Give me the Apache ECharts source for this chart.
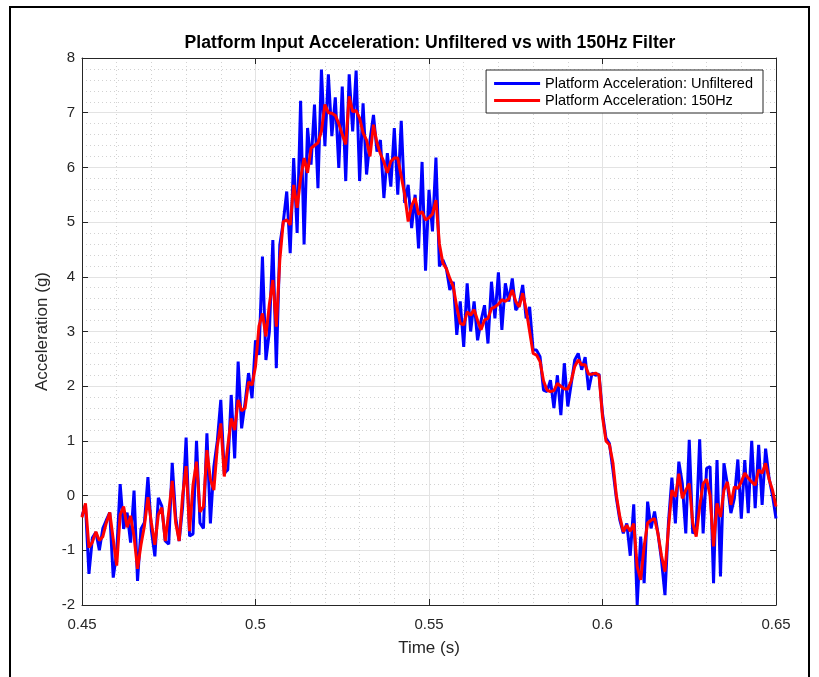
<!DOCTYPE html>
<html>
<head>
<meta charset="utf-8">
<script src="https://cdn.jsdelivr.net/npm/echarts@6/dist/echarts.min.js"></script>
<style>html,body{margin:0;padding:0;background:#fff;}#c{width:819px;height:677px;}</style>
</head>
<body>
<div id="c"></div>
<script>
// Sample times: start and step (s)
const T0 = 0.45;
const DT = 0.001;
// Platform acceleration, unfiltered (g)
const unfiltered = [
 -0.37,-0.17,-1.43,-0.77,-0.67,-1.0,-0.6,-0.45,-0.31,-1.5,
 -1.04,0.21,-0.61,-0.31,-0.86,0.09,-1.56,-0.61,-0.49,0.34,
 -0.64,-1.11,-0.04,-0.19,-0.83,-0.89,0.60,-0.4,-0.83,-0.2,
 1.06,-0.74,-0.7,1.0,-0.5,-0.6,1.14,-0.51,0.53,1.0,
 1.75,0.41,0.47,1.84,0.68,2.45,1.23,1.7,2.24,1.78,
 2.84,2.57,4.37,2.48,3.0,4.67,2.33,4.58,5.0,5.56,
 4.43,6.17,4.80,7.22,4.59,6.72,6.05,7.15,5.62,7.79,
 6.39,7.70,6.57,7.28,5.99,7.48,5.75,7.70,6.66,7.77,
 5.75,7.17,5.87,6.5,6.96,6.29,6.5,5.44,6.26,5.65,
 6.72,5.50,6.85,5.35,5.68,4.89,5.50,4.52,6.10,4.11,
 5.59,4.83,6.18,4.19,4.31,4.15,3.76,3.91,2.94,3.55,
 2.72,3.88,3.0,3.55,2.84,3.2,3.48,2.78,3.91,3.24,
 4.08,3.03,3.88,3.55,3.97,3.39,3.5,3.85,3.24,3.45,
 2.66,2.66,2.54,1.93,1.90,2.11,1.60,2.20,1.47,2.42,
 1.63,2.05,2.48,2.60,2.30,2.53,1.93,2.24,2.20,2.22,
 1.5,1.05,0.95,0.47,-0.05,-0.45,-0.69,-0.51,-1.1,-0.16,
 -2.0,-0.75,-1.6,-0.11,-0.6,-0.29,-0.7,-1.18,-1.82,-0.5,
 0.33,-0.51,0.62,0.22,-0.69,1.02,-0.69,-0.6,1.03,-0.69,
 0.5,0.53,-1.6,0.65,-1.48,0.59,0.2,-0.32,-0.05,0.66,
 -0.42,0.65,-0.32,1.0,-0.23,0.93,-0.17,0.86,0.32,0.0,
 -0.42
];
// Platform acceleration, 150 Hz filter (g)
const filtered150 = [
 -0.40,-0.14,-0.95,-0.85,-0.66,-0.82,-0.75,-0.5,-0.31,-0.8,
 -1.28,-0.35,-0.2,-0.58,-0.37,-0.75,-1.34,-0.9,-0.55,-0.03,
 -0.5,-0.9,-0.35,-0.22,-0.83,-0.3,0.27,-0.5,-0.83,0.0,
 0.54,-0.65,0.2,0.62,-0.3,-0.2,0.83,0.3,0.1,0.9,
 1.32,0.35,0.9,1.41,1.2,1.75,1.55,1.6,2.08,2.02,
 2.36,3.1,3.33,2.91,3.5,3.94,3.09,4.3,5.01,5.04,
 4.95,5.68,5.26,5.8,6.17,5.9,6.35,6.4,6.45,6.66,
 7.15,7.0,6.99,6.95,6.8,6.6,6.42,7.30,7.02,7.04,
 6.9,6.63,6.5,6.20,6.78,6.45,6.25,6.1,5.9,6.11,
 6.17,6.17,5.84,5.5,5.01,5.3,5.44,5.14,5.19,5.04,
 5.08,5.15,5.40,4.6,4.25,4.15,3.97,3.82,3.45,3.15,
 3.12,3.36,3.3,3.40,3.2,3.03,3.21,3.24,3.42,3.45,
 3.5,3.58,3.55,3.6,3.76,3.55,3.45,3.70,3.4,3.0,
 2.60,2.57,2.45,2.1,1.93,1.90,1.92,2.05,2.0,1.95,
 1.95,2.1,2.36,2.48,2.39,2.39,2.22,2.22,2.24,2.20,
 1.44,1.0,0.93,0.6,0.0,-0.39,-0.66,-0.54,-0.65,-0.51,
 -1.3,-1.54,-0.93,-0.5,-0.45,-0.42,-0.7,-1.1,-1.39,-0.6,
 0.10,-0.02,0.40,-0.05,0.1,0.22,-0.5,-0.75,-0.2,0.22,
 0.30,0.0,-0.93,-0.14,-0.39,0.1,0.25,-0.17,0.16,0.13,
 0.25,0.41,0.32,0.25,0.19,0.47,0.41,0.59,0.3,0.10,
 -0.2
];
const seriesNames = ['Platform Acceleration: Unfiltered', 'Platform Acceleration: 150Hz'];
const xTicks = [0.45, 0.5, 0.55, 0.6, 0.65];
const yTicks = [-2, -1, 0, 1, 2, 3, 4, 5, 6, 7, 8];

function pairs(vals) {
  return vals.map((v, i) => [+(T0 + i * DT).toFixed(3), v]);
}

const axisColor = '#262626';
const font = 'Liberation Sans, Arial, Helvetica, sans-serif';
const majorGrid = { show: true, lineStyle: { color: '#e3e3e3', width: 1 } };
const minorGrid = { show: true, lineStyle: { color: '#d2d2d2', width: 1, type: [1, 3] } };

function xAx(pos, labels) {
  return {
    type: 'value', position: pos, min: xTicks[0], max: xTicks[xTicks.length - 1], interval: 0.05,
    axisLine: { show: true, onZero: false, lineStyle: { color: axisColor, width: 1 } },
    axisTick: { show: true, inside: true, length: 6, lineStyle: { color: axisColor } },
    minorTick: { show: false, splitNumber: 5 },
    splitLine: labels ? majorGrid : { show: false },
    minorSplitLine: labels ? minorGrid : { show: false },
    axisLabel: { show: labels, margin: 12, color: axisColor, fontSize: 15, fontFamily: font,
      formatter: v => String(+(+v).toFixed(2)) },
    name: labels ? 'Time (s)' : '', nameLocation: 'middle', nameGap: 35,
    nameTextStyle: { color: axisColor, fontSize: 17, fontFamily: font }
  };
}
function yAx(pos, labels) {
  return {
    type: 'value', position: pos, min: yTicks[0], max: yTicks[yTicks.length - 1], interval: 1,
    axisLine: { show: true, onZero: false, lineStyle: { color: axisColor, width: 1 } },
    axisTick: { show: true, inside: true, length: 6, lineStyle: { color: axisColor } },
    minorTick: { show: false, splitNumber: 5 },
    splitLine: labels ? majorGrid : { show: false },
    minorSplitLine: labels ? minorGrid : { show: false },
    axisLabel: { show: labels, margin: 7, color: axisColor, fontSize: 15, fontFamily: font },
    name: labels ? 'Acceleration (g)' : '', nameLocation: 'middle', nameGap: 26,
    nameTextStyle: { color: axisColor, fontSize: 17, fontFamily: font }
  };
}

const chart = echarts.init(document.getElementById('c'), null, { renderer: 'canvas' });
chart.setOption({
  animation: false,
  backgroundColor: '#fff',
  title: {
    text: 'Platform Input Acceleration: Unfiltered vs with 150Hz Filter',
    left: 430, top: 34, textAlign: 'center', padding: 0,
    textStyle: { color: '#000', fontSize: 17.6, fontWeight: 'bold', fontFamily: font }
  },
  grid: { left: 82, top: 58, right: 43, bottom: 72, containLabel: false },
  xAxis: [xAx('bottom', true), xAx('top', false)],
  yAxis: [yAx('left', true), yAx('right', false)],
  legend: {
    data: seriesNames, orient: 'vertical', right: 56, top: 70,
    icon: 'rect', itemWidth: 46, itemHeight: 3, itemGap: 0,
    padding: [5, 10, 4, 8],
    borderColor: axisColor, borderWidth: 1, backgroundColor: '#fff',
    textStyle: { color: '#000', fontSize: 14.5, fontFamily: font, lineHeight: 17 }
  },
  graphic: [{
    type: 'rect', z: 100, silent: true,
    shape: { x: 10, y: 7, width: 799, height: 700 },
    style: { fill: 'none', stroke: '#000', lineWidth: 2 }
  }],
  series: [
    { name: seriesNames[0], type: 'line', data: pairs(unfiltered), symbol: 'none', color: '#0000ff',
      lineStyle: { width: 3, color: '#0000ff' }, z: 2 },
    { name: seriesNames[1], type: 'line', data: pairs(filtered150), symbol: 'none', color: '#ff0000',
      lineStyle: { width: 3, color: '#ff0000' }, z: 3 }
  ]
});
</script>
</body>
</html>
